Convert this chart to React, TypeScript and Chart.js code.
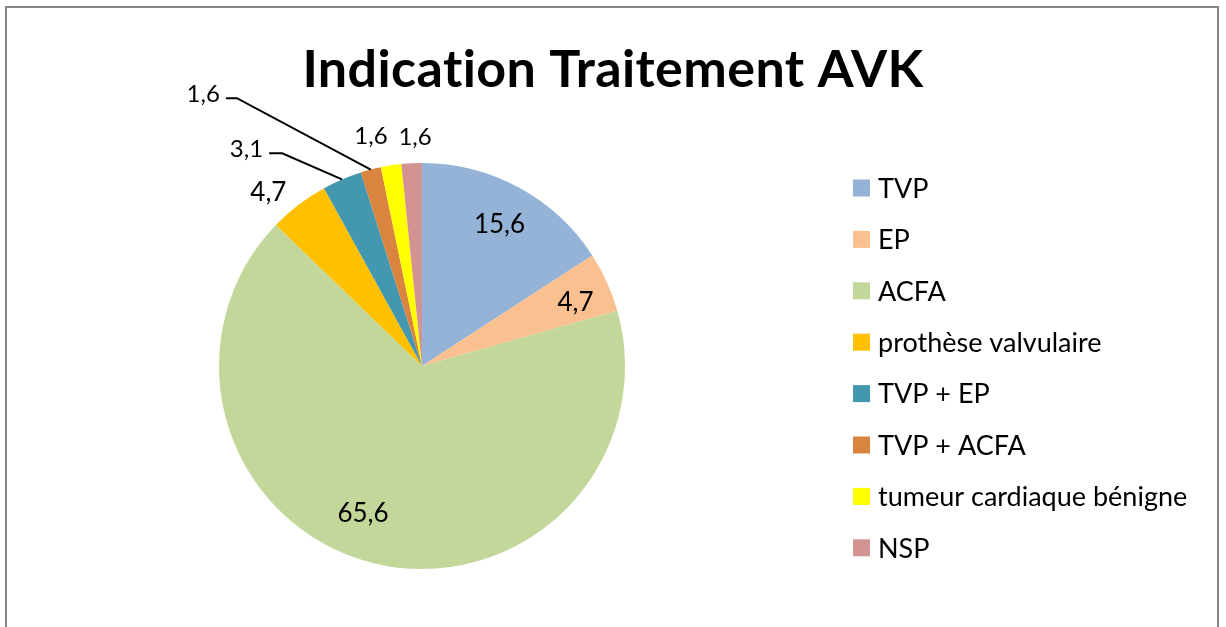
import React, { useEffect, useRef } from "react";
import { Chart, registerables } from "chart.js";

Chart.register(...registerables);

const categories = [
  "TVP",
  "EP",
  "ACFA",
  "prothèse valvulaire",
  "TVP + EP",
  "TVP + ACFA",
  "tumeur cardiaque bénigne",
  "NSP",
];
const values = [15.6, 4.7, 65.6, 4.7, 3.1, 1.6, 1.6, 1.6];
const colors = ["#95B3D7", "#FAC090", "#C4D79B", "#FFC000", "#4397AE", "#D9843F", "#FFFF00", "#D39393"];
const titleText = "Indication Traitement AVK";

// label placement: angle offset (deg) from slice middle, radial factor (× radius), optional leader segment
const labelPlacement = [
  { dA: 0, k: 0.8, size: 26 },
  { dA: 1.7, k: 0.82, size: 26 },
  { dA: 7.8, k: 0.78, size: 26 },
  { dA: -4, k: 1.143, size: 26 },
  { dA: -12.5, k: 1.29, size: 24, leader: 13 },
  { dA: -21.6, k: 1.635, size: 24, leader: 11 },
  { dA: -3.7, k: 1.163, size: 24 },
  { dA: 1.2, k: 1.133, size: 24 },
];

const FONT = "Lato, 'Open Sans', sans-serif";

const fmt = (v: number) => String(v).replace(".", ",");

const decorPlugin = {
  id: "decor",
  afterDraw(chart: any) {
    const ctx: any = chart.ctx;
    ctx.save();
    // frame
    ctx.strokeStyle = "#878787";
    ctx.lineWidth = 2;
    ctx.strokeRect(6, 7, 1212, 700);

    // title
    ctx.fillStyle = "#000";
    ctx.font = `bold 52px ${FONT}`;
    ctx.textAlign = "center";
    ctx.textBaseline = "alphabetic";
    if ("letterSpacing" in ctx) ctx.letterSpacing = "0.4px";
    ctx.fillText(titleText, 613, 87);
    if ("letterSpacing" in ctx) ctx.letterSpacing = "0px";

    // data labels
    const meta = chart.getDatasetMeta(0);
    meta.data.forEach((arc: any, i: number) => {
      const p = labelPlacement[i];
      const { x: cx, y: cy, startAngle, endAngle, outerRadius } = arc.getProps(
        ["x", "y", "startAngle", "endAngle", "outerRadius"],
        true
      );
      const mid = (startAngle + endAngle) / 2;
      const a = mid + (p.dA * Math.PI) / 180;
      const R = outerRadius * p.k;
      const px = cx + R * Math.cos(a);
      const py = cy + R * Math.sin(a);
      const text = fmt(values[i]);
      ctx.font = `${p.size}px ${FONT}`;
      ctx.fillStyle = "#000";
      if (p.leader) {
        const ex = cx + outerRadius * Math.cos(mid);
        const ey = cy + outerRadius * Math.sin(mid);
        ctx.strokeStyle = "#000";
        ctx.lineWidth = 2;
        ctx.beginPath();
        ctx.moveTo(px, py);
        ctx.lineTo(px + p.leader, py);
        ctx.lineTo(ex, ey);
        ctx.stroke();
        ctx.textAlign = "right";
        ctx.fillText(text, px - 6, py - 5 + p.size * 0.36);
      } else {
        ctx.textAlign = "center";
        ctx.fillText(text, px, py + p.size * 0.36);
      }
    });

    // legend
    const lx = 853;
    const ly0 = 188;
    const step = 51.4;
    const box = 17;
    ctx.font = `27px ${FONT}`;
    ctx.textAlign = "left";
    chart.data.labels.forEach((lab: string, i: number) => {
      const cyL = ly0 + i * step;
      ctx.fillStyle = chart.data.datasets[0].backgroundColor[i];
      ctx.fillRect(lx, cyL - box / 2, box, box);
      ctx.fillStyle = "#000";
      ctx.fillText(lab, 878, cyL + 27 * 0.36);
    });
    ctx.restore();
  },
};

export default function App() {
  const ref = useRef<HTMLCanvasElement | null>(null);
  useEffect(() => {
    if (!ref.current) return;
    const chart = new Chart(ref.current, {
      type: "pie",
      data: {
        labels: categories,
        datasets: [
          {
            data: values,
            backgroundColor: colors,
            borderWidth: 0,
          },
        ],
      },
      options: {
        responsive: false,
        animation: false,
        devicePixelRatio: 1,
        events: [],
        layout: { padding: { left: 219, right: 601, top: 163, bottom: 58 } },
        plugins: {
          legend: { display: false },
          title: { display: false },
          tooltip: { enabled: false },
        },
      },
      plugins: [decorPlugin],
    });
    return () => chart.destroy();
  }, []);
  return (
    <div style={{ position: "fixed", left: 0, top: 0, width: 1226, height: 627, background: "#fff" }}>
      <canvas ref={ref} width={1226} height={627} style={{ width: 1226, height: 627, display: "block" }} />
    </div>
  );
}
